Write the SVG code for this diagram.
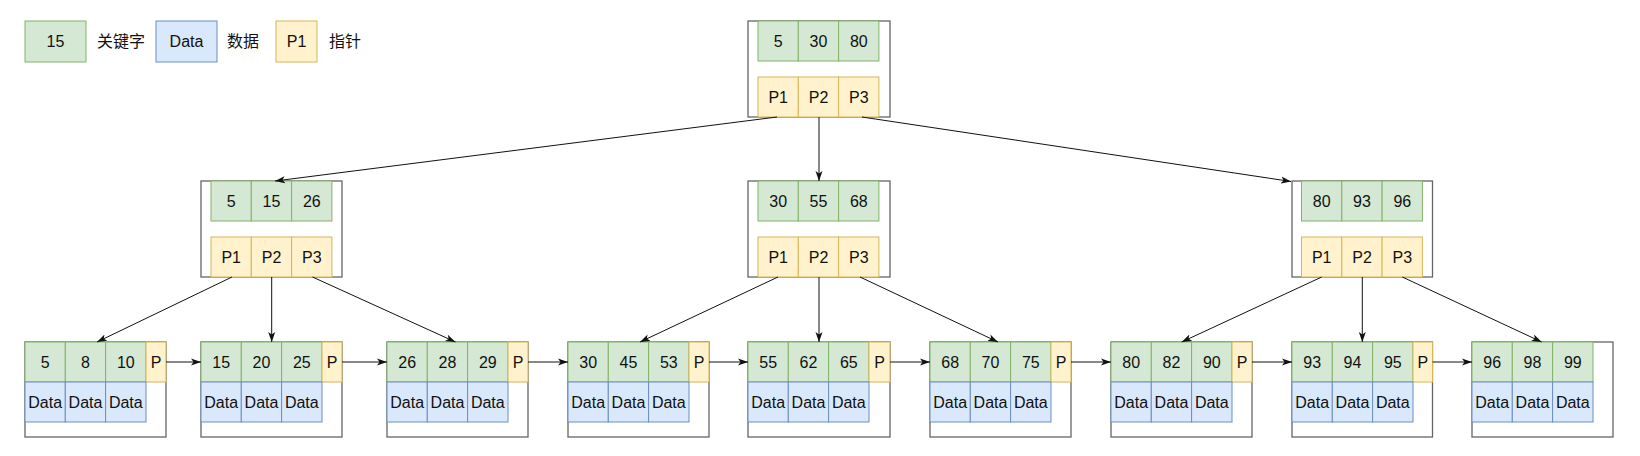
<svg xmlns="http://www.w3.org/2000/svg" width="1640" height="456" viewBox="0 0 1640 456">
<defs>
<style>
.k{fill:#d5e8d4;stroke:#82b366;stroke-width:1}
.d{fill:#dae8fc;stroke:#6c8ebf;stroke-width:1}
.p{fill:#fff2cc;stroke:#d6b656;stroke-width:1}
.o{fill:#ffffff;stroke:#666666;stroke-width:1.3}
text{font-family:"Liberation Sans",Arial,"Noto Sans CJK SC",sans-serif;font-size:16px;fill:#111111;text-anchor:middle}
.e{stroke:#111111;stroke-width:1;fill:none;marker-end:url(#a)}
</style>
<marker id="a" markerUnits="userSpaceOnUse" markerWidth="11" markerHeight="8" refX="10" refY="4" orient="auto">
<path d="M0,0.5 L10,4 L0,7.5 L2.5,4 z" fill="#111111"/>
</marker>
</defs>
<rect width="1640" height="456" fill="#ffffff"/>

<g id="legend">
<rect class="k" x="25" y="21" width="61" height="41"/>
<text x="55.5" y="47">15</text>
<text x="121" y="47">关键字</text>
<rect class="d" x="156" y="21" width="61" height="41"/>
<text x="186.5" y="47">Data</text>
<text x="243" y="47">数据</text>
<rect class="p" x="276" y="21" width="41" height="41"/>
<text x="296.5" y="47">P1</text>
<text x="345" y="47">指针</text>
</g>

<g id="root">
<rect class="o" x="748" y="21" width="142" height="96"/>
<rect class="k" x="758" y="21" width="40.3" height="40"/><rect class="k" x="798.3" y="21" width="40.3" height="40"/><rect class="k" x="838.6" y="21" width="40.3" height="40"/>
<text x="778.2" y="46.7">5</text><text x="818.5" y="46.7">30</text><text x="858.8" y="46.7">80</text>
<rect class="p" x="758" y="77" width="40.3" height="40"/><rect class="p" x="798.3" y="77" width="40.3" height="40"/><rect class="p" x="838.6" y="77" width="40.3" height="40"/>
<text x="778.2" y="102.7">P1</text><text x="818.5" y="102.7">P2</text><text x="858.8" y="102.7">P3</text>
</g>

<g id="n2a">
<rect class="o" x="201" y="181" width="141" height="96"/>
<rect class="k" x="211" y="181" width="40.3" height="40"/><rect class="k" x="251.3" y="181" width="40.3" height="40"/><rect class="k" x="291.6" y="181" width="40.3" height="40"/>
<text x="231.2" y="206.7">5</text><text x="271.5" y="206.7">15</text><text x="311.8" y="206.7">26</text>
<rect class="p" x="211" y="237" width="40.3" height="40"/><rect class="p" x="251.3" y="237" width="40.3" height="40"/><rect class="p" x="291.6" y="237" width="40.3" height="40"/>
<text x="231.2" y="262.7">P1</text><text x="271.5" y="262.7">P2</text><text x="311.8" y="262.7">P3</text>
</g>

<g id="n2b">
<rect class="o" x="748" y="181" width="142" height="96"/>
<rect class="k" x="758" y="181" width="40.3" height="40"/><rect class="k" x="798.3" y="181" width="40.3" height="40"/><rect class="k" x="838.6" y="181" width="40.3" height="40"/>
<text x="778.2" y="206.7">30</text><text x="818.5" y="206.7">55</text><text x="858.8" y="206.7">68</text>
<rect class="p" x="758" y="237" width="40.3" height="40"/><rect class="p" x="798.3" y="237" width="40.3" height="40"/><rect class="p" x="838.6" y="237" width="40.3" height="40"/>
<text x="778.2" y="262.7">P1</text><text x="818.5" y="262.7">P2</text><text x="858.8" y="262.7">P3</text>
</g>

<g id="n2c">
<rect class="o" x="1292" y="181" width="140.5" height="96"/>
<rect class="k" x="1301.5" y="181" width="40.3" height="40"/><rect class="k" x="1341.8" y="181" width="40.3" height="40"/><rect class="k" x="1382.1" y="181" width="40.3" height="40"/>
<text x="1321.7" y="206.7">80</text><text x="1362" y="206.7">93</text><text x="1402.3" y="206.7">96</text>
<rect class="p" x="1301.5" y="237" width="40.3" height="40"/><rect class="p" x="1341.8" y="237" width="40.3" height="40"/><rect class="p" x="1382.1" y="237" width="40.3" height="40"/>
<text x="1321.7" y="262.7">P1</text><text x="1362" y="262.7">P2</text><text x="1402.3" y="262.7">P3</text>
</g>

<g id="leaf1" transform="translate(25,342)">
<rect class="o" x="0" y="0" width="141" height="95"/>
<rect class="k" x="0" y="0" width="40.3" height="40"/><rect class="k" x="40.3" y="0" width="40.3" height="40"/><rect class="k" x="80.6" y="0" width="40.4" height="40"/><rect class="p" x="121" y="0" width="20" height="40"/>
<text x="20.2" y="25.7">5</text><text x="60.5" y="25.7">8</text><text x="100.8" y="25.7">10</text><text x="131" y="25.7">P</text>
<rect class="d" x="0" y="40" width="40.3" height="40"/><rect class="d" x="40.3" y="40" width="40.3" height="40"/><rect class="d" x="80.6" y="40" width="40.4" height="40"/>
<text x="20.2" y="65.7">Data</text><text x="60.5" y="65.7">Data</text><text x="100.8" y="65.7">Data</text>
</g>
<g id="leaf2" transform="translate(201,342)">
<rect class="o" x="0" y="0" width="141" height="95"/>
<rect class="k" x="0" y="0" width="40.3" height="40"/><rect class="k" x="40.3" y="0" width="40.3" height="40"/><rect class="k" x="80.6" y="0" width="40.4" height="40"/><rect class="p" x="121" y="0" width="20" height="40"/>
<text x="20.2" y="25.7">15</text><text x="60.5" y="25.7">20</text><text x="100.8" y="25.7">25</text><text x="131" y="25.7">P</text>
<rect class="d" x="0" y="40" width="40.3" height="40"/><rect class="d" x="40.3" y="40" width="40.3" height="40"/><rect class="d" x="80.6" y="40" width="40.4" height="40"/>
<text x="20.2" y="65.7">Data</text><text x="60.5" y="65.7">Data</text><text x="100.8" y="65.7">Data</text>
</g>
<g id="leaf3" transform="translate(387,342)">
<rect class="o" x="0" y="0" width="141" height="95"/>
<rect class="k" x="0" y="0" width="40.3" height="40"/><rect class="k" x="40.3" y="0" width="40.3" height="40"/><rect class="k" x="80.6" y="0" width="40.4" height="40"/><rect class="p" x="121" y="0" width="20" height="40"/>
<text x="20.2" y="25.7">26</text><text x="60.5" y="25.7">28</text><text x="100.8" y="25.7">29</text><text x="131" y="25.7">P</text>
<rect class="d" x="0" y="40" width="40.3" height="40"/><rect class="d" x="40.3" y="40" width="40.3" height="40"/><rect class="d" x="80.6" y="40" width="40.4" height="40"/>
<text x="20.2" y="65.7">Data</text><text x="60.5" y="65.7">Data</text><text x="100.8" y="65.7">Data</text>
</g>
<g id="leaf4" transform="translate(568,342)">
<rect class="o" x="0" y="0" width="141" height="95"/>
<rect class="k" x="0" y="0" width="40.3" height="40"/><rect class="k" x="40.3" y="0" width="40.3" height="40"/><rect class="k" x="80.6" y="0" width="40.4" height="40"/><rect class="p" x="121" y="0" width="20" height="40"/>
<text x="20.2" y="25.7">30</text><text x="60.5" y="25.7">45</text><text x="100.8" y="25.7">53</text><text x="131" y="25.7">P</text>
<rect class="d" x="0" y="40" width="40.3" height="40"/><rect class="d" x="40.3" y="40" width="40.3" height="40"/><rect class="d" x="80.6" y="40" width="40.4" height="40"/>
<text x="20.2" y="65.7">Data</text><text x="60.5" y="65.7">Data</text><text x="100.8" y="65.7">Data</text>
</g>
<g id="leaf5" transform="translate(748,342)">
<rect class="o" x="0" y="0" width="142" height="95"/>
<rect class="k" x="0" y="0" width="40.3" height="40"/><rect class="k" x="40.3" y="0" width="40.3" height="40"/><rect class="k" x="80.6" y="0" width="40.4" height="40"/><rect class="p" x="121" y="0" width="21" height="40"/>
<text x="20.2" y="25.7">55</text><text x="60.5" y="25.7">62</text><text x="100.8" y="25.7">65</text><text x="131.5" y="25.7">P</text>
<rect class="d" x="0" y="40" width="40.3" height="40"/><rect class="d" x="40.3" y="40" width="40.3" height="40"/><rect class="d" x="80.6" y="40" width="40.4" height="40"/>
<text x="20.2" y="65.7">Data</text><text x="60.5" y="65.7">Data</text><text x="100.8" y="65.7">Data</text>
</g>
<g id="leaf6" transform="translate(930,342)">
<rect class="o" x="0" y="0" width="141" height="95"/>
<rect class="k" x="0" y="0" width="40.3" height="40"/><rect class="k" x="40.3" y="0" width="40.3" height="40"/><rect class="k" x="80.6" y="0" width="40.4" height="40"/><rect class="p" x="121" y="0" width="20" height="40"/>
<text x="20.2" y="25.7">68</text><text x="60.5" y="25.7">70</text><text x="100.8" y="25.7">75</text><text x="131" y="25.7">P</text>
<rect class="d" x="0" y="40" width="40.3" height="40"/><rect class="d" x="40.3" y="40" width="40.3" height="40"/><rect class="d" x="80.6" y="40" width="40.4" height="40"/>
<text x="20.2" y="65.7">Data</text><text x="60.5" y="65.7">Data</text><text x="100.8" y="65.7">Data</text>
</g>
<g id="leaf7" transform="translate(1111,342)">
<rect class="o" x="0" y="0" width="141" height="95"/>
<rect class="k" x="0" y="0" width="40.3" height="40"/><rect class="k" x="40.3" y="0" width="40.3" height="40"/><rect class="k" x="80.6" y="0" width="40.4" height="40"/><rect class="p" x="121" y="0" width="20" height="40"/>
<text x="20.2" y="25.7">80</text><text x="60.5" y="25.7">82</text><text x="100.8" y="25.7">90</text><text x="131" y="25.7">P</text>
<rect class="d" x="0" y="40" width="40.3" height="40"/><rect class="d" x="40.3" y="40" width="40.3" height="40"/><rect class="d" x="80.6" y="40" width="40.4" height="40"/>
<text x="20.2" y="65.7">Data</text><text x="60.5" y="65.7">Data</text><text x="100.8" y="65.7">Data</text>
</g>
<g id="leaf8" transform="translate(1292,342)">
<rect class="o" x="0" y="0" width="140.5" height="95"/>
<rect class="k" x="0" y="0" width="40.3" height="40"/><rect class="k" x="40.3" y="0" width="40.3" height="40"/><rect class="k" x="80.6" y="0" width="40.4" height="40"/><rect class="p" x="121" y="0" width="19.5" height="40"/>
<text x="20.2" y="25.7">93</text><text x="60.5" y="25.7">94</text><text x="100.8" y="25.7">95</text><text x="130.8" y="25.7">P</text>
<rect class="d" x="0" y="40" width="40.3" height="40"/><rect class="d" x="40.3" y="40" width="40.3" height="40"/><rect class="d" x="80.6" y="40" width="40.4" height="40"/>
<text x="20.2" y="65.7">Data</text><text x="60.5" y="65.7">Data</text><text x="100.8" y="65.7">Data</text>
</g>
<g id="leaf9" transform="translate(1472,342)">
<rect class="o" x="0" y="0" width="141" height="95"/>
<rect class="k" x="0" y="0" width="40.3" height="40"/><rect class="k" x="40.3" y="0" width="40.3" height="40"/><rect class="k" x="80.6" y="0" width="40.4" height="40"/>
<text x="20.2" y="25.7">96</text><text x="60.5" y="25.7">98</text><text x="100.8" y="25.7">99</text>
<rect class="d" x="0" y="40" width="40.3" height="40"/><rect class="d" x="40.3" y="40" width="40.3" height="40"/><rect class="d" x="80.6" y="40" width="40.4" height="40"/>
<text x="20.2" y="65.7">Data</text><text x="60.5" y="65.7">Data</text><text x="100.8" y="65.7">Data</text>
</g>

<g id="connectors">
<path class="e" d="M777,117 L275,181"/>
<path class="e" d="M819,117 L819,181"/>
<path class="e" d="M862,117 L1291,181.5"/>
<path class="e" d="M232,277 L97,342"/>
<path class="e" d="M271.7,277 L271.7,342"/>
<path class="e" d="M312.5,277 L455.5,342"/>
<path class="e" d="M778,277 L640,342"/>
<path class="e" d="M819,277 L819,342"/>
<path class="e" d="M860,277 L998,342"/>
<path class="e" d="M1321.7,277 L1181.7,342"/>
<path class="e" d="M1362.3,277 L1362.3,342"/>
<path class="e" d="M1402.3,277 L1541.7,342"/>
<path class="e" d="M166,362 L201,362"/>
<path class="e" d="M342,362 L387,362"/>
<path class="e" d="M528,362 L568,362"/>
<path class="e" d="M709,362 L748,362"/>
<path class="e" d="M890,362 L930,362"/>
<path class="e" d="M1071,362 L1111,362"/>
<path class="e" d="M1252,362 L1292,362"/>
<path class="e" d="M1432.5,362 L1472,362"/>
</g>
</svg>
